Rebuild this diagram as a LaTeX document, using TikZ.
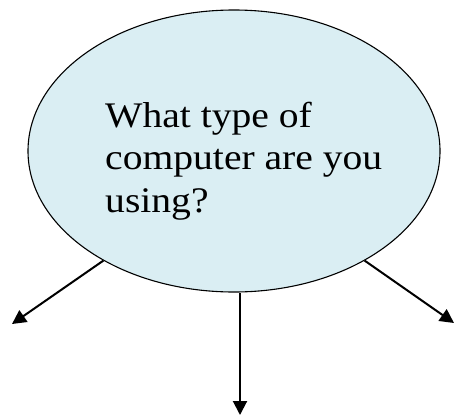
\documentclass[tikz,border=0pt]{standalone}
\usepackage{fontspec}
\setmainfont{Liberation Serif}[FakeStretch=1.1]
\usetikzlibrary{shapes.geometric,arrows.meta}
\definecolor{bubble}{HTML}{DAEEF3}
\tikzset{
  bubblenode/.style={ellipse,draw=black,line width=1.1pt,fill=bubble,minimum width=412pt,minimum height=282pt,inner sep=0pt},
  qtext/.style={anchor=base west,align=left,inner sep=0pt,font=\fontsize{36pt}{42.5pt}\selectfont},
  branch/.style={line width=2pt,-{Triangle[length=14pt,width=14pt]}}
}
\begin{document}
\begin{tikzpicture}[x=1pt,y=-1pt]
\useasboundingbox (0,0) rectangle (454,415);
\node[bubblenode] (q) at (234,151) {};
\node[qtext] (t) at (105,212) {What type of\\computer are you\\using?};
\coordinate (la) at (12,324);
\coordinate (ra) at (454,323);
\coordinate (ba) at (240,415);
\draw[branch] (q.220.9) -- (la);
\draw[branch] (q.320.8) -- (ra);
\draw[branch] (q.south -| ba) -- (ba);
\end{tikzpicture}
\end{document}
